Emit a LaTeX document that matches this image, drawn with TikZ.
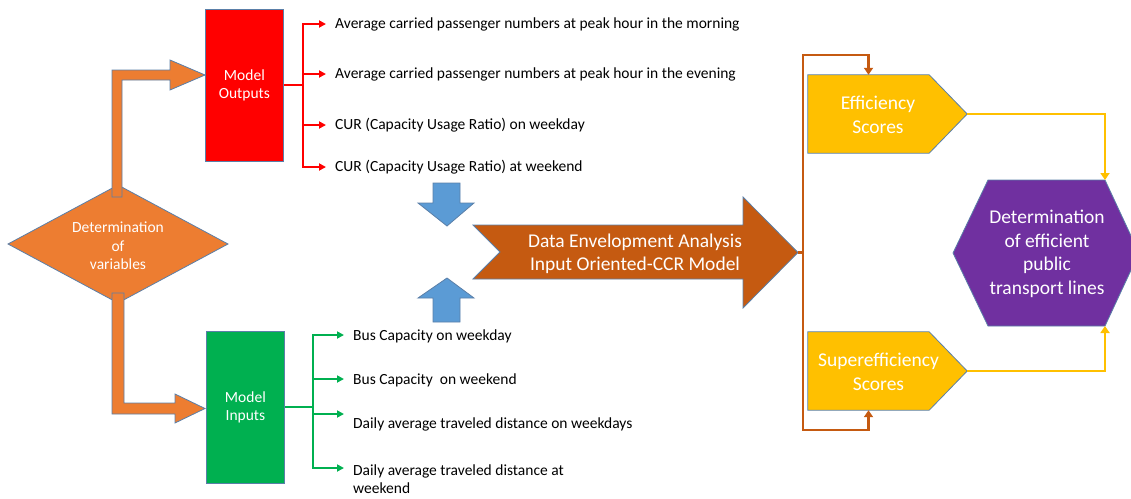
\documentclass[tikz,border=0pt]{standalone}
\usepackage{fontspec}
\setmainfont{Carlito}
\usetikzlibrary{arrows.meta}

\definecolor{orangeA}{HTML}{ED7D31}
\definecolor{edgeblue}{HTML}{5A7FA8}
\definecolor{redbox}{HTML}{FF0000}
\definecolor{greenbox}{HTML}{00B050}
\definecolor{bluearrow}{HTML}{5B9BD5}
\definecolor{brownA}{HTML}{C55A11}
\definecolor{goldA}{HTML}{FFC000}
\definecolor{purpleA}{HTML}{7030A0}

\tikzset{
  smalltext/.style={font=\fontsize{15.5}{18.5}\selectfont},
  bigtext/.style={font=\fontsize{19.5}{23.5}\selectfont},
  lbl/.style={smalltext, text=white, align=center, inner sep=0pt},
  biglbl/.style={bigtext, text=white, align=center, inner sep=0pt},
  item/.style={smalltext, anchor=west, align=left, inner sep=0pt, text=black},
  outline/.style={draw=edgeblue, line width=0.8pt},
  block/.style={outline, minimum width=78pt, minimum height=152pt, anchor=north west, inner sep=0pt},
  redlink/.style={draw=redbox, line width=2pt, -{Triangle[length=7pt,width=7pt]}},
  greenlink/.style={draw=greenbox, line width=2pt, -{Triangle[length=7pt,width=7pt]}},
  brownlink/.style={draw=brownA, line width=2.5pt, -{Triangle[length=7pt,width=9pt]}},
  goldlink/.style={draw=goldA, line width=2.5pt, -{Triangle[length=7pt,width=9pt]}},
}

\begin{document}
\begin{tikzpicture}[x=1pt, y=-1pt]
\useasboundingbox (0,0) rectangle (1131,498);

% ---- decision diamond ----
\draw[outline, fill=orangeA] (8,244) -- (118,185) -- (228,244) -- (118,303) -- cycle;
\node[lbl] (vars) at (118,246) {Determination\\of\\variables};

% ---- output / input blocks ----
\node[block, fill=redbox] (outbox) at (205,9) {};
\node[lbl] (outtxt) at (outbox.center) {Model\\Outputs};
\node[block, fill=greenbox] (inbox) at (206,331) {};
\node[lbl] (intxt) at (inbox.center) {Model\\Inputs};

% ---- bent block arrows from the diamond ----
\draw[outline, fill=orangeA] (112,197) -- (112,70) -- (170,70) -- (170,60) -- (205,75)
  -- (170,90) -- (170,80) -- (122,80) -- (122,197) -- cycle;
\draw[outline, fill=orangeA] (112,293) -- (124,293) -- (124,403) -- (175,403) -- (175,394)
  -- (205,408.5) -- (175,423) -- (175,414) -- (112,414) -- cycle;

% ---- output variables ----
\node[item] (o1) at (335,24)  {Average carried passenger numbers at peak hour in the morning};
\node[item] (o2) at (335,74)  {Average carried passenger numbers at peak hour in the evening};
\node[item] (o3) at (335,125) {CUR (Capacity Usage Ratio) on weekday};
\node[item] (o4) at (335,167) {CUR (Capacity Usage Ratio) at weekend};
\coordinate (rj) at (303,84.5);
\draw[draw=redbox, line width=2pt] (outbox.east |- rj) -- (rj);
\foreach \k in {1,...,4} \draw[redlink] (rj) |- ([xshift=-9pt]o\k.west);

% ---- input variables ----
\node[item] (i1) at (353,336) {Bus Capacity on weekday};
\node[item] (i2) at (353,380) {Bus Capacity\ \ on weekend};
\node[item] (i3) at (353,424) {Daily average traveled distance on weekdays};
\node[item] (i4) at (353,479) {Daily average traveled distance at\\weekend};
\coordinate (ia1) at (344,335);
\coordinate (ia2) at (344,379);
\coordinate (ia3) at (344,414);
\coordinate (ia4) at (344,468);
\coordinate (gj) at (313,407);
\draw[draw=greenbox, line width=2pt] (inbox.east |- gj) -- (gj);
\foreach \k in {1,...,4} \draw[greenlink] (gj) |- (ia\k);

% ---- blue block arrows into the DEA model ----
\draw[outline, fill=bluearrow] (433,183) -- (460,183) -- (460,203) -- (474,203) -- (447,226)
  -- (418,203) -- (433,203) -- cycle;
\draw[outline, fill=bluearrow] (433,322) -- (460,322) -- (460,298) -- (474,298) -- (447,278)
  -- (418,298) -- (433,298) -- cycle;

% ---- DEA notched arrow ----
\draw[outline, fill=brownA] (473,225) -- (743,225) -- (743,197) -- (798,252.5) -- (743,308)
  -- (743,279) -- (473,279) -- (500,252) -- cycle;
\node[biglbl] (dea) at (635,254) {Data Envelopment Analysis\\Input Oriented-CCR Model};
\coordinate (deatip) at (798,252.5);

% ---- score pentagons ----
\node[minimum width=121pt, minimum height=78pt, inner sep=0pt] (eff) at (868.5,114) {};
\node[minimum width=121pt, minimum height=78pt, inner sep=0pt] (sup) at (868.5,371) {};
\foreach \n in {eff,sup}
  \draw[outline, fill=goldA] (\n.north west) -- (\n.north east) -- ([xshift=38pt]\n.east)
    -- (\n.south east) -- (\n.south west) -- cycle;
\coordinate (efftip) at ([xshift=38pt]eff.east);
\coordinate (suptip) at ([xshift=38pt]sup.east);
\node[biglbl] (efftxt) at (878,115) {Efficiency\\Scores};
\node[biglbl] (suptxt) at (878.5,372) {Superefficiency\\Scores};

% ---- DEA results branching to both score sets ----
\coordinate (bj) at (803,252.5);
\draw[draw=brownA, line width=2.5pt] (deatip) -- (bj);
\draw[brownlink] (bj) |- (868.5,55) -- (eff.north);
\draw[brownlink] (bj) |- (868.5,430) -- (sup.south);

% ---- final hexagon ----
\begin{scope}
\clip (0,0) rectangle (1131,498);
\draw[outline, fill=purpleA] (988,180) -- (1105,180) -- (1139,253) -- (1105,326)
  -- (988,326) -- (953,253) -- cycle;
\end{scope}
\coordinate (hextop) at (1105,180);
\coordinate (hexbot) at (1105,326);
\node[biglbl] (hex) at (1047,254) {Determination\\of efficient\\public\\transport lines};

% ---- scores feeding the final decision ----
\draw[goldlink] (efftip) -| (hextop);
\draw[goldlink] (suptip) -| (hexbot);
\end{tikzpicture}
\end{document}
